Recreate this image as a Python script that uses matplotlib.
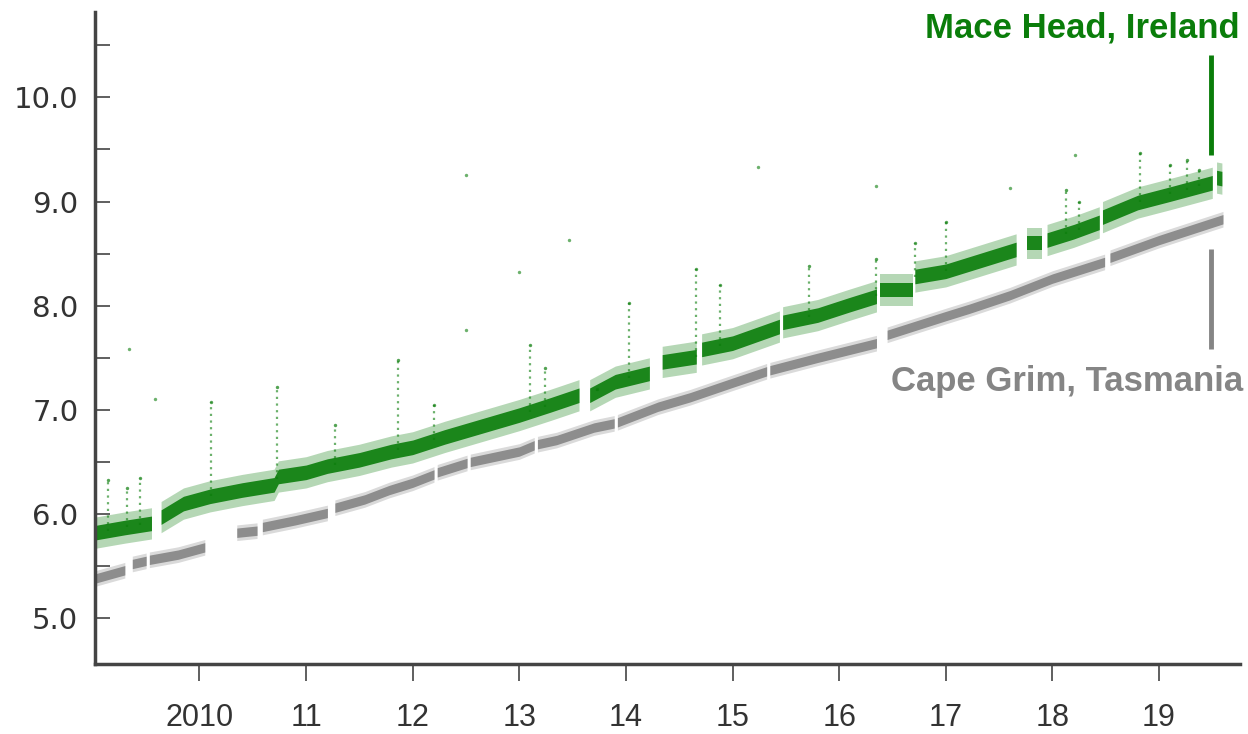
import numpy as np
import matplotlib.pyplot as plt

# Mace Head (green) band centre; a gap follows each year in *_breaks
green_years = [2009.02, 2009.30, 2009.55, 2009.64, 2009.85, 2010.10, 2010.40, 2010.70,
               2010.74, 2011.00, 2011.20, 2011.50, 2011.80, 2012.00, 2012.30, 2012.60,
               2013.00, 2013.30, 2013.56, 2013.66, 2013.90, 2014.22, 2014.34, 2014.66,
               2014.71, 2015.00, 2015.44, 2015.47, 2015.80, 2016.10, 2016.35, 2016.38,
               2016.69, 2016.71, 2017.00, 2017.22, 2017.66, 2017.76, 2017.90, 2017.95,
               2018.20, 2018.44, 2018.47, 2018.80, 2019.10, 2019.50, 2019.54, 2019.59]
green_values = [5.82, 5.87, 5.91, 5.97, 6.10, 6.17, 6.23, 6.28,
                6.36, 6.40, 6.46, 6.52, 6.60, 6.64, 6.74, 6.83,
                6.95, 7.05, 7.14, 7.14, 7.27, 7.35, 7.46, 7.51,
                7.58, 7.64, 7.80, 7.84, 7.91, 8.01, 8.09, 8.15,
                8.15, 8.28, 8.33, 8.40, 8.54, 8.60, 8.60, 8.63,
                8.71, 8.80, 8.85, 8.99, 9.07, 9.18, 9.23, 9.22]
green_breaks = [2009.55, 2013.56, 2014.22, 2014.66, 2015.44, 2016.35, 2016.69,
                2017.66, 2017.90, 2018.44, 2019.50]

# Cape Grim (grey) band centre
gray_years = [2009.02, 2009.30, 2009.37, 2009.50, 2009.53, 2009.80, 2010.05, 2010.35,
              2010.54, 2010.59, 2010.90, 2011.20, 2011.27, 2011.55, 2011.78, 2012.00,
              2012.20, 2012.23, 2012.51, 2012.54, 2013.00, 2013.14, 2013.17, 2013.35,
              2013.70, 2013.89, 2013.92, 2014.30, 2014.60, 2015.00, 2015.32, 2015.35,
              2015.80, 2016.35, 2016.45, 2017.00, 2017.22, 2017.60, 2018.00, 2018.49,
              2018.54, 2019.00, 2019.60]
gray_values = [5.38, 5.46, 5.52, 5.55, 5.56, 5.61, 5.68, 5.82,
               5.84, 5.875, 5.94, 6.01, 6.06, 6.14, 6.23, 6.30,
               6.38, 6.40, 6.49, 6.50, 6.60, 6.66, 6.67, 6.71,
               6.83, 6.87, 6.88, 7.03, 7.12, 7.26, 7.37, 7.38,
               7.50, 7.64, 7.72, 7.90, 7.97, 8.10, 8.26, 8.42,
               8.46, 8.63, 8.83]
gray_breaks = [2009.30, 2009.50, 2010.05, 2010.54, 2011.20, 2012.20, 2012.51,
               2013.14, 2013.89, 2015.32, 2016.35, 2018.49]

# pollution spikes at Mace Head (year, highest reading)
spike_years = [2009.14, 2009.32, 2009.44, 2010.11, 2010.73, 2011.27, 2011.86, 2012.20,
               2013.10, 2013.24, 2013.73, 2014.03, 2014.66, 2014.88, 2015.72, 2016.35,
               2016.71, 2017.00, 2018.13, 2018.25, 2018.82, 2019.10, 2019.26, 2019.38]
spike_tops = [6.33, 6.25, 6.35, 7.08, 7.22, 6.85, 7.48, 7.05,
              7.62, 7.40, 7.20, 8.03, 8.35, 8.20, 8.38, 8.45,
              8.60, 8.80, 9.11, 9.00, 9.47, 9.35, 9.40, 9.30]

outlier_years = [2012.50, 2015.24, 2013.47, 2013.00, 2012.50, 2009.34, 2009.58,
                 2018.21, 2016.35, 2017.60]
outlier_values = [9.25, 9.33, 8.63, 8.32, 7.77, 7.58, 7.10, 9.45, 9.15, 9.13]

year_ticks = [2010, 2011, 2012, 2013, 2014, 2015, 2016, 2017, 2018, 2019]
year_labels = ['2010', '11', '12', '13', '14', '15', '16', '17', '18', '19']

GREEN = '#0a7d0a'
GRAY = '#858585'
TEXT = '#333333'


def segments(years, values, breaks):
    segs, xs, ys = [], [], []
    for x, y in zip(years, values):
        xs.append(x)
        ys.append(y)
        if x in breaks:
            segs.append((xs, ys))
            xs, ys = [], []
    if xs:
        segs.append((xs, ys))
    return segs


def draw_band(ax, years, values, breaks, color, core, halo):
    for xs, ys in segments(years, values, breaks):
        xs, ys = np.array(xs), np.array(ys)
        ax.fill_between(xs, ys - halo, ys + halo, color=color, alpha=0.3, lw=0)
        ax.fill_between(xs, ys - core, ys + core, color=color, alpha=0.9, lw=0)


fig = plt.figure(figsize=(12.48, 7.34), dpi=100)
ax = fig.add_axes([0.0761, 0.0954, 0.9175, 0.8883])

draw_band(ax, gray_years, gray_values, gray_breaks, GRAY, 0.045, 0.075)
draw_band(ax, green_years, green_values, green_breaks, GREEN, 0.07, 0.15)

base = np.interp(spike_years, green_years, green_values)
ax.vlines(spike_years, base, spike_tops, color=GREEN, lw=1.6, alpha=0.6,
          linestyles=(0, (1, 2)))
ax.scatter(spike_years, spike_tops, s=6, color=GREEN, alpha=0.7, lw=0)
ax.scatter(outlier_years, outlier_values, s=6, color=GREEN, alpha=0.6, lw=0)

# labels on the right
ax.text(2019.76, 10.67, 'Mace Head, Ireland', ha='right', va='center', color=GREEN,
        fontsize=25, fontweight='bold', family='Liberation Sans', clip_on=False)
ax.plot([2019.484, 2019.484], [9.45, 10.41], color=GREEN, lw=3.5, solid_capstyle='butt')
ax.plot([2019.484, 2019.484], [7.58, 8.54], color=GRAY, lw=3.5, solid_capstyle='butt')
ax.text(2019.79, 7.27, 'Cape Grim, Tasmania', ha='right', va='center', color=GRAY,
        fontsize=25, fontweight='bold', family='Liberation Sans', clip_on=False)

ax.set_xlim(2009.02, 2019.76)
ax.set_ylim(4.56, 10.82)
for side in ['top', 'right']:
    ax.spines[side].set_visible(False)
for side in ['left', 'bottom']:
    ax.spines[side].set_linewidth(2.5)
    ax.spines[side].set_color('#444444')

ax.set_yticks([5, 6, 7, 8, 9, 10])
ax.set_yticklabels(['5.0', '6.0', '7.0', '8.0', '9.0', '10.0'])
ax.set_yticks([5.5, 6.5, 7.5, 8.5, 9.5, 10.5], minor=True)
ax.tick_params(axis='y', which='both', direction='in', length=11, width=1.2,
               color='#444444', labelsize=21, labelcolor=TEXT, pad=12)
ax.set_xticks(year_ticks)
ax.set_xticklabels(year_labels, family='Liberation Sans')
ax.tick_params(axis='x', direction='out', length=12, width=1.2, color='#444444',
               labelsize=22, labelcolor=TEXT, pad=16)

fig.savefig('out.png', dpi=100)
